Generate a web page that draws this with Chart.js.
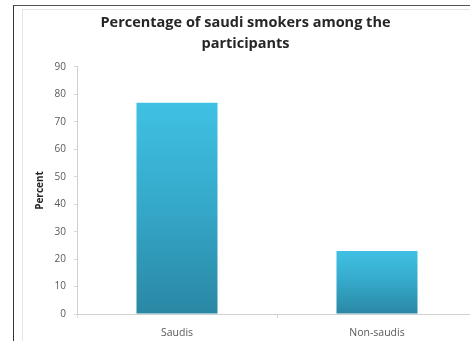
<!DOCTYPE html>
<html><head><meta charset="utf-8">
<script src="https://cdn.jsdelivr.net/npm/chart.js@4"></script>
<style>
html,body{margin:0;padding:0;background:#fff;overflow:hidden;width:470px;height:341px;}
#frame{position:absolute;left:13px;top:5px;width:500px;height:360px;border-left:1px solid #333;border-top:1px solid #555;}
#inner{position:absolute;left:22px;top:9px;width:500px;height:360px;border-left:1px solid #e4e4e4;border-top:1px solid #e4e4e4;}
#wrap{position:absolute;left:14px;top:6px;width:474px;height:335px;}
</style></head>
<body>
<div id="frame"></div><div id="inner"></div>
<div id="wrap"><canvas id="c" width="474" height="335"></canvas></div>
<script>
const categories = ["Saudis", "Non-saudis"];
const percentValues = [77, 23];
const yTicks = [0, 10, 20, 30, 40, 50, 60, 70, 80, 90];

function barGradient(ctx) {
  const chart = ctx.chart;
  if (!chart.chartArea || ctx.dataIndex === undefined) return '#35aacb';
  const ys = chart.scales.y;
  const v = ctx.dataset.data[ctx.dataIndex];
  const top = ys.getPixelForValue(v), bot = ys.getPixelForValue(0);
  const g = chart.ctx.createLinearGradient(0, top, 0, bot);
  g.addColorStop(0, '#3fc1e4');
  g.addColorStop(0.5, '#35a8c9');
  g.addColorStop(1, '#2a87a4');
  return g;
}

new Chart(document.getElementById('c'), {
  type: 'bar',
  data: { labels: categories, datasets: [{ data: percentValues, backgroundColor: barGradient, borderWidth: 0, barPercentage: 0.405, categoryPercentage: 1 }] },
  options: {
    responsive: false, animation: false,
    layout: { padding: { left: 0, right: 11, top: 0, bottom: 0 } },
    plugins: {
      legend: { display: false }, tooltip: { enabled: false },
      title: { display: true, text: ["Percentage of saudi smokers among the", "participants"], color: '#262626',
        font: { family: "'Open Sans'", size: 14.5, weight: 'bold', lineHeight: 1.4 }, padding: { top: 7, bottom: 13.4 } }
    },
    scales: {
      x: {
        grid: { display: true, drawOnChartArea: false, offset: true, tickLength: 4, color: '#d9d9d9' },
        border: { color: '#d0d0d0' },
        ticks: { color: '#595959', font: { family: "'Open Sans'", size: 10.5 }, padding: 9 },
        afterFit: s => { s.height = 27; }
      },
      y: {
        min: 0, max: 90,
        afterBuildTicks: s => { s.ticks = yTicks.map(v => ({ value: v })); },
        grid: { display: true, drawOnChartArea: false, tickLength: 3, color: '#d9d9d9' },
        border: { color: '#d0d0d0' },
        ticks: { color: '#595959', font: { family: "'Open Sans'", size: 10 }, padding: 8 },
        title: { display: true, text: 'Percent', color: '#262626', font: { family: "'Open Sans'", size: 10, weight: 'bold' }, padding: { top: 20, bottom: 0 } },
        afterFit: s => { s.width = 63; }
      }
    }
  }
});
</script>
</body></html>
